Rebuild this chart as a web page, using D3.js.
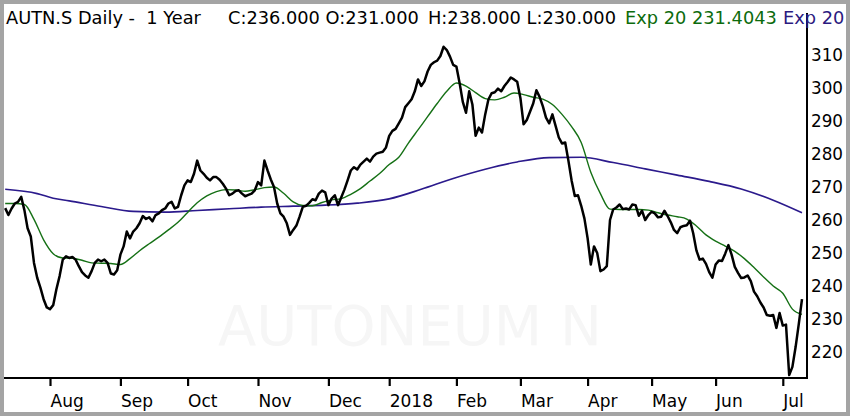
<!DOCTYPE html>
<html><head><meta charset="utf-8">
<script src="https://cdn.jsdelivr.net/npm/d3@7"></script>
<style>
html,body{margin:0;padding:0;background:#fff;}
svg{display:block;font-family:"DejaVu Sans",Verdana,sans-serif;}
text{white-space:pre;}
</style>
</head><body><svg id="c" width="850" height="416"></svg>
<script>
// ---- data: daily closes per month (trading days) ----
const closeJul17 = [263.6,261.5,263.5,265,265.5,267,263,257.5,255,247,242.5,239.5,236,233.5];
const closeAug17 = [233,234.2,239,243,248,249,248.5,248.8,248,246,244.2,243.2,242.5,244.5,247,248,247.5,248,247,243.8,243.5,244.8];
const closeSep17 = [249.5,252,256.5,254.4,256.5,257.5,259,261.2,260.3,260.8,259.6,261.5,262,263,263.5,265,265.5,263.5,264,267.5,270.5];
const closeOct17 = [272,271.5,274,278,275,274,272.8,272,273,273,272.2,271,269.5,267.5,268,268.8,269,268,267.2,267.6,268,269];
const closeNov17 = [271.5,270.5,278,275,272.3,270,265,262,261,259,255.5,257,258.3,261,264,264.3,265.2,266.3,266,268,268.9,268.4];
const closeDec17 = [264.5,266.5,267.5,264.5,266.8,269.2,272,275,276,275.3,276.8,277.7,278.6,277.7,279.2,280.1,280.4,280.7,282];
const closeJan18 = [285.5,287,287.6,289.3,291,294.2,295.4,296.6,299,302.6,300.6,302,305,307,307.8,308.3,309.7,312.5,311.5,309.5,307];
const closeFeb18 = [306.5,301.5,295.8,292.5,299,295,285.5,288,286.5,292,296.5,298.4,298.7,299.8,299,300.6,301.8,303.2,302.6,301.9];
const closeMar18 = [297,289,290.3,292.8,295.3,299.3,297.3,294.5,291,289.3,292,288.5,285,283.2,283.5,278,272,267.3,267.5,264.3,260.5];
const closeApr18 = [254.5,246.5,252,250,244.5,245,246,260,263.2,263.8,264.7,263.3,263.5,263.2,264.7,264.5,261.3,262.8,260,261.5];
const closeMay18 = [262.5,262,260.8,261,262.8,261.2,259.3,257,256,257.8,258.2,258.4,259.8,256,250.8,248,248.3,246.7,244.2,242.5];
const closeJun18 = [246.5,247.7,247.6,249.8,252.4,249.5,245.8,244,242.4,242.6,243.2,241.5,238.3,236.9,235,233.5,231.2,231,231.2,227.3,231.8];
const closeJul18 = [228,228.3,213,215.5,221.5,228.5,236];

const monthCloses = [closeJul17,closeAug17,closeSep17,closeOct17,closeNov17,closeDec17,closeJan18,closeFeb18,closeMar18,closeApr18,closeMay18,closeJun18,closeJul18];
const monthLabels = ["Jul","Aug","Sep","Oct","Nov","Dec","2018","Feb","Mar","Apr","May","Jun","Jul"];

// exponential averages: [trading-day index, value]
const ema20Points = [[0,265],[3,265],[6,264.7],[9,260.2],[12,254],[15,249.8],[18,248.5],[21,248.4],[24,247.8],[27,247],[30,246.9],[33,246.8],[36,246.5],[39,248.3],[42,250.7],[45,252.8],[48,254.8],[51,257],[54,259.3],[57,262.3],[60,265.2],[63,267.3],[66,268.6],[69,269.2],[72,269.1],[75,268.7],[78,269.2],[81,269.8],[84,270],[87,268.1],[90,265.5],[93,264.4],[96,264.3],[99,265.3],[102,266.1],[105,266.5],[108,267.8],[111,269.5],[114,271.8],[117,274.1],[120,276.8],[123,279],[126,283.3],[129,287.3],[132,291.3],[135,295.3],[138,299],[141,301.5],[144,300.6],[147,298.6],[150,296.8],[153,296.4],[156,297.2],[159,298.5],[162,298],[165,297.2],[168,296.6],[171,295],[174,292],[177,288.3],[180,283.5],[183,274.5],[186,268],[189,263.3],[192,263.2],[195,263.2],[198,263.2],[201,263],[204,262.2],[207,261.5],[210,261],[213,260.3],[216,258.2],[219,255.5],[222,253.6],[225,252.1],[228,250.5],[231,248.3],[234,245.6],[237,242.7],[240,240],[243,237.8],[246,233],[249,231.4]];
const ema200Points = [[0,269.3],[10,268],[15,266.6],[20,265.8],[30,264.1],[40,262.6],[50,262.4],[60,262.9],[70,263.4],[80,263.9],[90,264.2],[100,264.5],[110,265.1],[120,266.4],[130,269.3],[140,272.6],[150,275.4],[160,277.6],[170,278.9],[180,279],[190,277.4],[200,275.5],[210,273.6],[220,271.7],[230,269.4],[240,266],[249,262.2]];

const yTicks = [220,230,240,250,260,270,280,290,300,310];
const titleParts = [
  {text:"AUTN.S Daily -  1 Year", color:"#000", x:6},
  {text:"C:236.000 O:231.000", color:"#000", x:228},
  {text:"H:238.000 L:230.000", color:"#000", x:428},
  {text:"Exp 20 231.4043", color:"#0c6b0c", x:625},
  {text:"Exp 20", color:"#2b1a80", x:783}
];
const watermark = "AUTONEUM N";

// ---- drawing ----
const svg = d3.select("#c");
const plot = {left:4, right:807, top:13, bottom:378};
const closes = monthCloses.flat();
const monthStarts = [];
let acc = 0;
monthCloses.forEach(m => { monthStarts.push(acc); acc += m.length; });

const x = d3.scaleLinear().domain([0, closes.length - 1]).range([5.2, 802]);
const y = d3.scaleLinear().domain([220, 310]).range([352, 55]);

svg.append("rect").attr("width",850).attr("height",416).attr("fill","#fff");

// watermark
svg.append("text").attr("x",218).attr("y",345).attr("font-size",56)
  .attr("fill","#f6f6f6").text(watermark);

svg.append("clipPath").attr("id","pc").append("rect")
  .attr("x",plot.left).attr("y",plot.top)
  .attr("width",plot.right-plot.left).attr("height",plot.bottom-plot.top);

const g = svg.append("g").attr("clip-path","url(#pc)");
const smooth = d3.line().x(d=>x(d[0])).y(d=>y(d[1])).curve(d3.curveMonotoneX);
g.append("path").attr("d", smooth(ema200Points)).attr("fill","none")
  .attr("stroke","#2b1a8c").attr("stroke-width",1.6);
g.append("path").attr("d", smooth(ema20Points)).attr("fill","none")
  .attr("stroke","#157015").attr("stroke-width",1.4);
const priceLine = d3.line().x((d,i)=>x(i)).y(d=>y(d));
g.append("path").attr("d", priceLine(closes)).attr("fill","none")
  .attr("stroke","#000").attr("stroke-width",2.5).attr("stroke-linejoin","round");

// bottom axis
const tickIdx = monthStarts.slice(1);
const tickLab = monthLabels.slice(1);
const xAxis = d3.axisBottom(x).tickValues(tickIdx)
  .tickFormat((d,i)=>tickLab[i]).tickSize(8).tickSizeOuter(0).tickPadding(9);
const ax = svg.append("g").attr("transform",`translate(0,${plot.bottom})`).call(xAxis);
ax.select(".domain").remove();
ax.selectAll(".tick line").attr("stroke","#000").attr("stroke-width",2.2);
ax.selectAll(".tick text").attr("text-anchor","start").attr("font-size",17)
  .attr("font-family","DejaVu Sans").attr("fill","#000").attr("dy","0.68em");

// right axis
const yAxis = d3.axisRight(y).tickValues(yTicks).tickSize(0).tickPadding(4);
const ay = svg.append("g").attr("transform",`translate(${plot.right},0)`).call(yAxis);
ay.select(".domain").remove();
ay.selectAll(".tick text").attr("font-size",16.8).attr("font-family","DejaVu Sans")
  .attr("fill","#000").attr("dy","0.35em");

// axis lines
svg.append("line").attr("x1",plot.left).attr("x2",plot.right+1)
  .attr("y1",plot.bottom).attr("y2",plot.bottom).attr("stroke","#000").attr("stroke-width",2);
svg.append("line").attr("x1",plot.right).attr("x2",plot.right)
  .attr("y1",plot.top).attr("y2",plot.bottom+1).attr("stroke","#000").attr("stroke-width",2);

// title
const t = svg.append("text").attr("y",24).attr("font-size",17.8);
titleParts.forEach(p => t.append("tspan").attr("x",p.x).attr("fill",p.color).text(p.text));

// frame
svg.append("rect").attr("x",2).attr("y",2).attr("width",846).attr("height",412)
  .attr("fill","none").attr("stroke","#a4a4a4").attr("stroke-width",4);
</script>
</body></html>
